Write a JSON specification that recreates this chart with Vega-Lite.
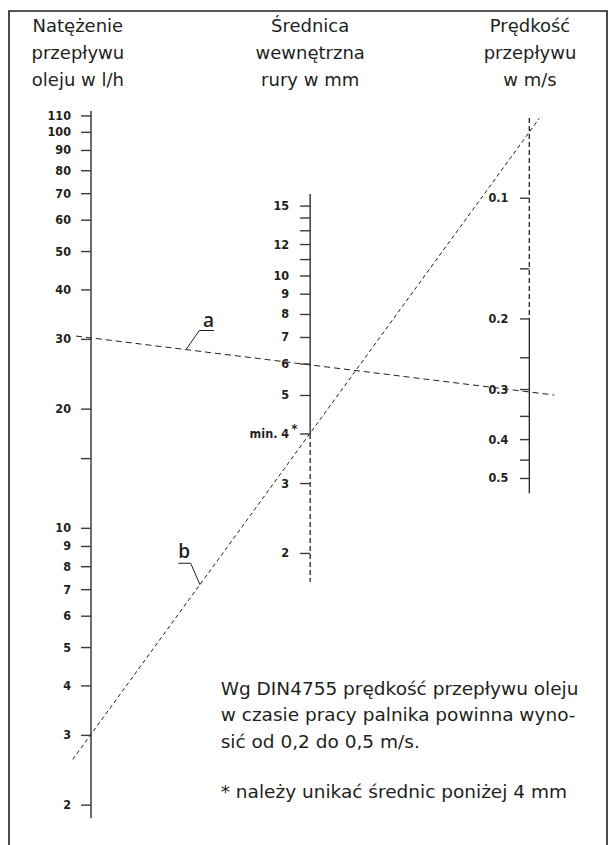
{
"$schema":"https://vega.github.io/schema/vega-lite/v6.json",
"width":609,"height":845,
"autosize":{"type":"fit","contains":"padding"},
"padding":{"left":9,"top":11,"right":2,"bottom":-3},
"background":"#ffffff",
"config":{"view":{"stroke":"#231f20","strokeWidth":1.6}},
"datasets":{
 "flow":[{"v":110,"t":"110"},{"v":100,"t":"100"},{"v":90,"t":"90"},{"v":80,"t":"80"},{"v":70,"t":"70"},{"v":60,"t":"60"},{"v":50,"t":"50"},{"v":40,"t":"40"},{"v":30,"t":"30"},{"v":20,"t":"20"},{"v":15,"t":""},{"v":10,"t":"10"},{"v":9,"t":"9"},{"v":8,"t":"8"},{"v":7,"t":"7"},{"v":6,"t":"6"},{"v":5,"t":"5"},{"v":4,"t":"4"},{"v":3,"t":"3"},{"v":2,"t":"2"}],
 "dia":[{"v":15,"t":"15"},{"v":14,"t":""},{"v":13,"t":""},{"v":12,"t":"12"},{"v":11,"t":""},{"v":10,"t":"10"},{"v":9,"t":"9"},{"v":8,"t":"8"},{"v":7,"t":"7"},{"v":6,"t":"6"},{"v":5,"t":"5"},{"v":4,"t":"min. 4"},{"v":3,"t":"3"},{"v":2,"t":"2"}],
 "vel":[{"v":0.1,"t":"0.1"},{"v":0.15,"t":""},{"v":0.2,"t":"0.2"},{"v":0.25,"t":""},{"v":0.3,"t":"0.3"},{"v":0.35,"t":""},{"v":0.4,"t":"0.4"},{"v":0.45,"t":""},{"v":0.5,"t":"0.5"}],
 "lines":[{"line":"a","u":-0.0684,"q":30.59},{"line":"a","u":2.114,"q":21.71},{"line":"b","u":-0.0835,"q":2.609},{"line":"b","u":2.0456,"q":108.5}]
},
"resolve":{"scale":{"y":"independent"}},
"layer":[
 {"data":{"name":"flow"},
  "layer":[
   {"data":{"values":[{}]},"mark":{"type":"rule","strokeWidth":1.3,"color":"#231f20"},
    "encoding":{"x":{"datum":0,"type":"quantitative","scale":{"domain":[-0.3742,2.3545],"nice":false,"zero":false},"axis":null},
     "y":{"datum":113.2,"type":"quantitative","scale":{"type":"log","domain":[1.5587,202.5],"nice":false},"axis":null},
     "y2":{"datum":1.852}}},
   {"mark":{"type":"rule","strokeWidth":1.4,"color":"#3a3a3a"},
    "encoding":{"x":{"datum":-0.0456,"type":"quantitative","scale":{"domain":[-0.3742,2.3545],"nice":false,"zero":false},"axis":null},
     "x2":{"datum":0},
     "y":{"field":"v","type":"quantitative","scale":{"type":"log","domain":[1.5587,202.5],"nice":false},"axis":null}}},
   {"mark":{"type":"text","align":"right","baseline":"middle","dx":-20,"font":"DejaVu Sans Condensed, Liberation Sans Narrow, Arial Narrow, sans-serif","fontWeight":"bold","fontSize":12.5,"color":"#231f20"},
    "encoding":{"x":{"datum":0,"type":"quantitative","scale":{"domain":[-0.3742,2.3545],"nice":false,"zero":false},"axis":null},
     "y":{"field":"v","type":"quantitative","scale":{"type":"log","domain":[1.5587,202.5],"nice":false},"axis":null},
     "text":{"field":"t"}}},
   {"data":{"name":"lines"},"transform":[{"filter":"datum.line==='a'"}],
    "mark":{"type":"line","strokeDash":[6,4],"strokeWidth":1,"color":"#231f20"},
    "encoding":{"x":{"field":"u","type":"quantitative","scale":{"domain":[-0.3742,2.3545],"nice":false,"zero":false},"axis":null},
     "y":{"field":"q","type":"quantitative","scale":{"type":"log","domain":[1.5587,202.5],"nice":false},"axis":null}}},
   {"data":{"name":"lines"},"transform":[{"filter":"datum.line==='b'"}],
    "mark":{"type":"line","strokeDash":[4,3],"strokeWidth":1,"color":"#231f20"},
    "encoding":{"x":{"field":"u","type":"quantitative","scale":{"domain":[-0.3742,2.3545],"nice":false,"zero":false},"axis":null},
     "y":{"field":"q","type":"quantitative","scale":{"type":"log","domain":[1.5587,202.5],"nice":false},"axis":null}}}
  ]},
 {"data":{"name":"dia"},
  "layer":[
   {"data":{"values":[{}]},"mark":{"type":"rule","strokeWidth":1.3,"color":"#231f20"},
    "encoding":{"x":{"datum":1,"type":"quantitative","scale":{"domain":[-0.3742,2.3545],"nice":false,"zero":false},"axis":null},
     "y":{"datum":16.09,"type":"quantitative","scale":{"type":"log","domain":[0.3623,46.51],"nice":false},"axis":null},
     "y2":{"datum":4}}},
   {"data":{"values":[{}]},"mark":{"type":"rule","strokeWidth":1.3,"strokeDash":[5,3],"color":"#231f20"},
    "encoding":{"x":{"datum":1,"type":"quantitative","scale":{"domain":[-0.3742,2.3545],"nice":false,"zero":false},"axis":null},
     "y":{"datum":4,"type":"quantitative","scale":{"type":"log","domain":[0.3623,46.51],"nice":false},"axis":null},
     "y2":{"datum":1.698}}},
   {"mark":{"type":"rule","strokeWidth":1.4,"color":"#3a3a3a"},
    "encoding":{"x":{"datum":0.9544,"type":"quantitative","scale":{"domain":[-0.3742,2.3545],"nice":false,"zero":false},"axis":null},
     "x2":{"datum":1},
     "y":{"field":"v","type":"quantitative","scale":{"type":"log","domain":[0.3623,46.51],"nice":false},"axis":null}}},
   {"mark":{"type":"text","align":"right","baseline":"middle","dx":-21,"font":"DejaVu Sans Condensed, Liberation Sans Narrow, Arial Narrow, sans-serif","fontWeight":"bold","fontSize":12.5,"color":"#231f20"},
    "encoding":{"x":{"datum":1,"type":"quantitative","scale":{"domain":[-0.3742,2.3545],"nice":false,"zero":false},"axis":null},
     "y":{"field":"v","type":"quantitative","scale":{"type":"log","domain":[0.3623,46.51],"nice":false},"axis":null},
     "text":{"field":"t"}}},
   {"data":{"values":[{}]},"mark":{"type":"text","text":"*","align":"center","baseline":"alphabetic","dx":-15.7,"dy":-1,"font":"DejaVu Sans","fontWeight":"bold","fontSize":12,"color":"#231f20"},
    "encoding":{"x":{"datum":1,"type":"quantitative","scale":{"domain":[-0.3742,2.3545],"nice":false,"zero":false},"axis":null},
     "y":{"datum":4,"type":"quantitative","scale":{"type":"log","domain":[0.3623,46.51],"nice":false},"axis":null}}}
  ]},
 {"data":{"name":"vel"},
  "layer":[
   {"data":{"values":[{}]},"mark":{"type":"rule","strokeWidth":1.3,"strokeDash":[5,3],"color":"#231f20"},
    "encoding":{"x":{"datum":2,"type":"quantitative","scale":{"domain":[-0.3742,2.3545],"nice":false,"zero":false},"axis":null},
     "y":{"datum":0.0631,"type":"quantitative","scale":{"type":"log","domain":[0.03412,4.1744],"nice":false,"reverse":true},"axis":null},
     "y2":{"datum":0.2}}},
   {"data":{"values":[{}]},"mark":{"type":"rule","strokeWidth":1.3,"color":"#231f20"},
    "encoding":{"x":{"datum":2,"type":"quantitative","scale":{"domain":[-0.3742,2.3545],"nice":false,"zero":false},"axis":null},
     "y":{"datum":0.2,"type":"quantitative","scale":{"type":"log","domain":[0.03412,4.1744],"nice":false,"reverse":true},"axis":null},
     "y2":{"datum":0.5443}}},
   {"mark":{"type":"rule","strokeWidth":1.4,"color":"#3a3a3a"},
    "encoding":{"x":{"datum":1.9576,"type":"quantitative","scale":{"domain":[-0.3742,2.3545],"nice":false,"zero":false},"axis":null},
     "x2":{"datum":2},
     "y":{"field":"v","type":"quantitative","scale":{"type":"log","domain":[0.03412,4.1744],"nice":false,"reverse":true},"axis":null}}},
   {"mark":{"type":"text","align":"right","baseline":"middle","dx":-21,"font":"DejaVu Sans Condensed, Liberation Sans Narrow, Arial Narrow, sans-serif","fontWeight":"bold","fontSize":12.5,"color":"#231f20"},
    "encoding":{"x":{"datum":2,"type":"quantitative","scale":{"domain":[-0.3742,2.3545],"nice":false,"zero":false},"axis":null},
     "y":{"field":"v","type":"quantitative","scale":{"type":"log","domain":[0.03412,4.1744],"nice":false,"reverse":true},"axis":null},
     "text":{"field":"t"}}}
  ]},
 {"data":{"values":[{}]},
  "layer":[
   {"mark":{"type":"text","text":["Natężenie","przepływu","oleju w l/h"],"align":"center","baseline":"alphabetic","lineHeight":27,"font":"DejaVu Sans","fontSize":18,"color":"#231f20"},
    "encoding":{"x":{"datum":-0.0600,"type":"quantitative","scale":{"domain":[-0.3742,2.3545],"nice":false,"zero":false},"axis":null},
     "y":{"datum":2.518,"type":"quantitative","scale":{"domain":[0,100.36],"nice":false,"zero":false,"reverse":true},"axis":null}}},
   {"mark":{"type":"text","text":["Średnica","wewnętrzna","rury w mm"],"align":"center","baseline":"alphabetic","lineHeight":27,"font":"DejaVu Sans","fontSize":18,"color":"#231f20"},
    "encoding":{"x":{"datum":1,"type":"quantitative","scale":{"domain":[-0.3742,2.3545],"nice":false,"zero":false},"axis":null},
     "y":{"datum":2.518,"type":"quantitative","scale":{"domain":[0,100.36],"nice":false,"zero":false,"reverse":true},"axis":null}}},
   {"mark":{"type":"text","text":["Prędkość","przepływu","w m/s"],"align":"center","baseline":"alphabetic","lineHeight":27,"font":"DejaVu Sans","fontSize":18,"color":"#231f20"},
    "encoding":{"x":{"datum":2.003,"type":"quantitative","scale":{"domain":[-0.3742,2.3545],"nice":false,"zero":false},"axis":null},
     "y":{"datum":2.518,"type":"quantitative","scale":{"domain":[0,100.36],"nice":false,"zero":false,"reverse":true},"axis":null}}},
   {"mark":{"type":"text","text":["Wg DIN4755 prędkość przepływu oleju","w czasie pracy palnika powinna wyno-","sić od 0,2 do 0,5 m/s."],"align":"left","baseline":"alphabetic","lineHeight":26.7,"font":"DejaVu Sans","fontSize":18.5,"color":"#231f20"},
    "encoding":{"x":{"datum":0.5918,"type":"quantitative","scale":{"domain":[-0.3742,2.3545],"nice":false,"zero":false},"axis":null},
     "y":{"datum":81.99,"type":"quantitative","scale":{"domain":[0,100.36],"nice":false,"zero":false,"reverse":true},"axis":null}}},
   {"mark":{"type":"text","text":"* należy unikać średnic poniżej 4 mm","align":"left","baseline":"alphabetic","font":"DejaVu Sans","fontSize":18.5,"color":"#231f20"},
    "encoding":{"x":{"datum":0.5918,"type":"quantitative","scale":{"domain":[-0.3742,2.3545],"nice":false,"zero":false},"axis":null},
     "y":{"datum":94.40,"type":"quantitative","scale":{"domain":[0,100.36],"nice":false,"zero":false,"reverse":true},"axis":null}}},
   {"mark":{"type":"text","text":"a","align":"center","baseline":"alphabetic","font":"Open Sans","fontWeight":600,"fontSize":19,"color":"#231f20"},
    "encoding":{"x":{"datum":0.5362,"type":"quantitative","scale":{"domain":[-0.3742,2.3545],"nice":false,"zero":false},"axis":null},
     "y":{"datum":37.89,"type":"quantitative","scale":{"domain":[0,100.36],"nice":false,"zero":false,"reverse":true},"axis":null}}},
   {"mark":{"type":"text","text":"b","align":"center","baseline":"alphabetic","font":"Open Sans","fontWeight":600,"fontSize":19,"color":"#231f20"},
    "encoding":{"x":{"datum":0.4253,"type":"quantitative","scale":{"domain":[-0.3742,2.3545],"nice":false,"zero":false},"axis":null},
     "y":{"datum":65.53,"type":"quantitative","scale":{"domain":[0,100.36],"nice":false,"zero":false,"reverse":true},"axis":null}}},
   {"mark":{"type":"rule","strokeWidth":1,"color":"#231f20"},
    "encoding":{"x":{"datum":0.4335,"type":"quantitative","scale":{"domain":[-0.3742,2.3545],"nice":false,"zero":false},"axis":null},
     "x2":{"datum":0.4942},
     "y":{"datum":40.60,"type":"quantitative","scale":{"domain":[0,100.36],"nice":false,"zero":false,"reverse":true},"axis":null},
     "y2":{"datum":38.31}}},
   {"mark":{"type":"rule","strokeWidth":1,"color":"#231f20"},
    "encoding":{"x":{"datum":0.4942,"type":"quantitative","scale":{"domain":[-0.3742,2.3545],"nice":false,"zero":false},"axis":null},
     "x2":{"datum":0.5613},
     "y":{"datum":38.31,"type":"quantitative","scale":{"domain":[0,100.36],"nice":false,"zero":false,"reverse":true},"axis":null},
     "y2":{"datum":38.31}}},
   {"mark":{"type":"rule","strokeWidth":1,"color":"#231f20"},
    "encoding":{"x":{"datum":0.4549,"type":"quantitative","scale":{"domain":[-0.3742,2.3545],"nice":false,"zero":false},"axis":null},
     "x2":{"datum":0.4974},
     "y":{"datum":66.22,"type":"quantitative","scale":{"domain":[0,100.36],"nice":false,"zero":false,"reverse":true},"axis":null},
     "y2":{"datum":68.81}}},
   {"mark":{"type":"rule","strokeWidth":1,"color":"#231f20"},
    "encoding":{"x":{"datum":0.3984,"type":"quantitative","scale":{"domain":[-0.3742,2.3545],"nice":false,"zero":false},"axis":null},
     "x2":{"datum":0.4549},
     "y":{"datum":66.22,"type":"quantitative","scale":{"domain":[0,100.36],"nice":false,"zero":false,"reverse":true},"axis":null},
     "y2":{"datum":66.22}}}
  ]}
]
}
